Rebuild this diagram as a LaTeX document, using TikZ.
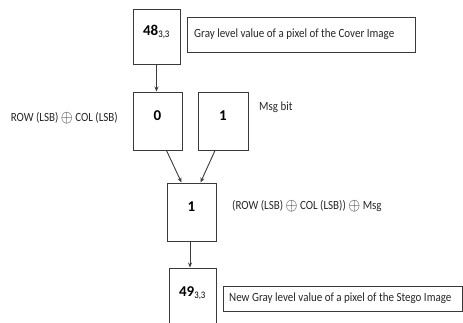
\documentclass[tikz,border=0pt]{standalone}
\usepackage{fontspec}
\setmainfont{Carlito}
\usetikzlibrary{arrows.meta}
\definecolor{ln}{HTML}{3A3A3A}
\newcommand{\narrow}[1]{\scalebox{0.88}[1]{#1}}
\newcommand{\xorsym}{\raisebox{-0.5pt}{\scalebox{1.45}{$\oplus$}}}
\tikzset{
  valbox/.style={draw=ln, line width=1pt, minimum width=#1, minimum height=58pt, inner sep=0pt,
     text height=11pt, text depth=13pt, font=\fontsize{15}{17}\selectfont\bfseries},
  lblbox/.style={draw=ln, line width=1pt, inner sep=0pt, anchor=center},
  lbl/.style={inner sep=0pt, font=\fontsize{12.5}{14}\selectfont, text=black!85},
  arr/.style={draw=ln, line width=0.9pt, -{Stealth[length=5pt,width=4pt]}}
}
\begin{document}
\begin{tikzpicture}[x=1pt,y=-1pt]
\useasboundingbox (0,0) rectangle (463,322);
\clip (0,0) rectangle (463,322);
% boxes
\node[valbox=47pt, minimum height=55pt] (b48) at (156.5,36.5) {48\textsubscript{\fontsize{10}{11}\selectfont\mdseries\narrow{3,3}}};
\node[lblbox, minimum width=228pt, minimum height=35pt] (l48) at (301,34.5) {};
\node[lbl, anchor=west] (t48) at (194,34.5) {\narrow{Gray level value of a pixel of the Cover Image}};

\node[valbox=49pt] (b0) at (157.5,121) {0};
\node[valbox=50pt] (bm) at (223,121) {1};
\node[lbl, anchor=west] (tm) at (259,107) {\narrow{Msg bit}};
\node[lbl, anchor=east] (tx) at (118,118) {\narrow{ROW (LSB) \xorsym{} COL (LSB)}};

\node[valbox=49pt] (br) at (191.5,212) {1};
\node[lbl, anchor=west] (tr) at (232,206) {\narrow{(ROW (LSB) \xorsym{} COL (LSB)) \xorsym{} Msg}};

\node[valbox=47pt] (b49) at (192.5,297) {49\textsubscript{\fontsize{10}{11}\selectfont\mdseries\narrow{3,3}}};
\node[lblbox, minimum width=239pt, minimum height=25pt] (l49) at (342.5,298.5) {};
\node[lbl, anchor=west] (t49) at (229,298.5) {\narrow{New Gray level value of a pixel of the Stego Image}};

% arrows
\draw[arr] (b48.south) -- (b48.south |- b0.north);
\draw[arr] ([xshift=9pt]b0.south) -- ([xshift=-10pt]br.north);
\draw[arr] ([xshift=-8pt]bm.south) -- ([xshift=9pt]br.north);
\draw[arr] ([xshift=-1.5pt]br.south) -- ([xshift=-2.5pt]b49.north);
\end{tikzpicture}
\end{document}
